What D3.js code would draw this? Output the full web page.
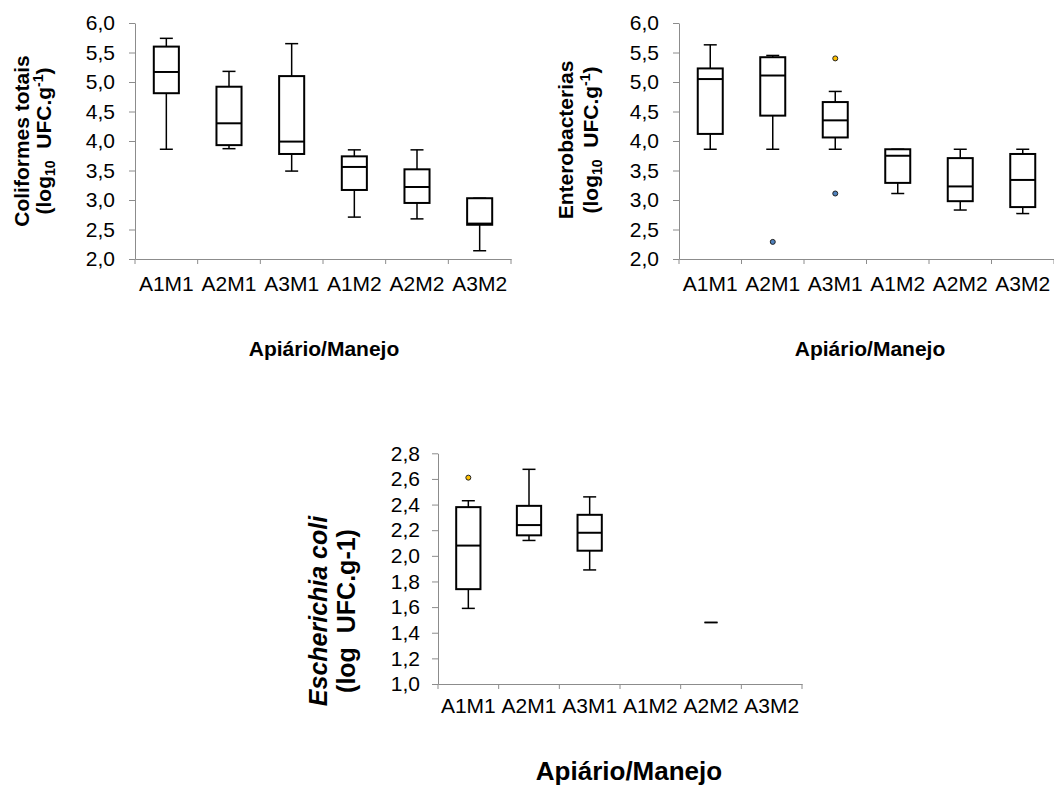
<!DOCTYPE html>
<html>
<head>
<meta charset="utf-8">
<script src="https://cdn.jsdelivr.net/npm/d3@7"></script>
<style>
  body { margin: 0; background: #fff; }
  svg { display: block; font-family: "Liberation Sans", Arial, sans-serif; }
</style>
</head>
<body>
<svg id="chart" width="1054" height="787"></svg>
<script>
// categories (apiário / manejo)
const categories = ["A1M1", "A2M1", "A3M1", "A1M2", "A2M2", "A3M2"];

// coliformes totais (log10 UFC.g-1)
const colMin = [3.86, 3.87, 3.49, 2.71, 2.68, 2.14];
const colQ1  = [4.81, 3.93, 3.78, 3.17, 2.95, 2.58];
const colMed = [5.17, 4.30, 3.99, 3.56, 3.22, 2.60];
const colQ3  = [5.60, 4.92, 5.10, 3.74, 3.52, 3.03];
const colMax = [5.74, 5.18, 5.65, 3.85, 3.85, 3.03];
const colOutliers = [];

// enterobacterias (log10 UFC.g-1)
const entMin = [3.86, 3.86, 3.86, 3.11, 2.83, 2.77];
const entQ1  = [4.12, 4.43, 4.06, 3.29, 2.98, 2.88];
const entMed = [5.05, 5.11, 4.35, 3.75, 3.23, 3.34];
const entQ3  = [5.23, 5.42, 4.66, 3.86, 3.71, 3.78];
const entMax = [5.63, 5.45, 4.84, 3.86, 3.86, 3.86];
const entOutliers = [["A2M1", 2.29], ["A3M1", 5.40], ["A3M1", 3.11]];

// escherichia coli (log UFC.g-1), null = no data
const ecoMin = [1.59, 2.12, 1.89, null, 1.48, null];
const ecoQ1  = [1.74, 2.16, 2.04, null, 1.48, null];
const ecoMed = [2.08, 2.24, 2.18, null, 1.48, null];
const ecoQ3  = [2.38, 2.39, 2.32, null, 1.48, null];
const ecoMax = [2.43, 2.675, 2.46, null, 1.48, null];
const ecoOutliers = [["A1M1", 2.61]];

// tick labels
const yTicksTop = [2.0, 2.5, 3.0, 3.5, 4.0, 4.5, 5.0, 5.5, 6.0];
const yTicksBottom = [1.0, 1.2, 1.4, 1.6, 1.8, 2.0, 2.2, 2.4, 2.6, 2.8];

const ptBR = d3.formatLocale({ decimal: ",", thousands: ".", grouping: [3], currency: ["", ""] });
const fmt = ptBR.format(".1f");

const axisColor = "#8c8c8c";
const svg = d3.select("#chart");

function drawPanel(p) {
    const g = svg.append("g");

    const x = d3.scaleBand()
        .domain(categories)
        .range([p.left, p.right])
        .paddingInner(0)
        .paddingOuter(0);

    const y = d3.scaleLinear()
        .domain(p.yDomain)
        .range([p.bottom, p.top]);

    // y axis
    const yAxis = g.append("g")
        .attr("transform", `translate(${p.left},0)`)
        .call(d3.axisLeft(y).tickValues(p.yTicks).tickFormat(fmt).tickSize(6).tickPadding(p.yTickPad).tickSizeOuter(0));
    yAxis.select(".domain").attr("stroke", axisColor);
    yAxis.selectAll(".tick line").attr("stroke", axisColor);
    yAxis.selectAll("text")
        .attr("fill", "#000")
        .style("font-size", p.tickFont + "px")
        .style("font-family", "'Liberation Sans', Arial, sans-serif");

    // x axis: labels in the middle, ticks on band edges
    const xAxis = g.append("g")
        .attr("transform", `translate(0,${p.bottom})`)
        .call(d3.axisBottom(x).tickSize(0).tickPadding(p.xLabelPad).tickSizeOuter(0));
    xAxis.select(".domain").attr("stroke", axisColor);
    xAxis.selectAll("text")
        .attr("fill", "#000")
        .style("font-size", p.tickFont + "px")
        .style("font-family", "'Liberation Sans', Arial, sans-serif");

    const edges = categories.map(c => x(c)).concat([p.right]);
    g.selectAll(".edge-tick")
        .data(edges)
        .enter()
        .append("line")
        .attr("x1", d => d)
        .attr("x2", d => d)
        .attr("y1", p.bottom)
        .attr("y2", p.bottom + 5)
        .attr("stroke", axisColor);

    // boxes
    const bw = x.bandwidth();
    const boxW = bw * 0.4;
    const capW = 13;
    const rows = categories.map((c, i) => ({
        cat: c, min: p.min[i], q1: p.q1[i], med: p.med[i], q3: p.q3[i], max: p.max[i]
    })).filter(d => d.min !== null);

    const boxes = g.selectAll(".box")
        .data(rows)
        .enter()
        .append("g")
        .attr("class", "box")
        .attr("transform", d => `translate(${x(d.cat) + bw / 2},0)`);

    // whiskers
    boxes.filter(d => d.max > d.q3).append("line")
        .attr("y1", d => y(d.max)).attr("y2", d => y(d.q3))
        .attr("stroke", "#000").attr("stroke-width", 1.5);
    boxes.filter(d => d.min < d.q1).append("line")
        .attr("y1", d => y(d.q1)).attr("y2", d => y(d.min))
        .attr("stroke", "#000").attr("stroke-width", 1.5);

    // caps
    boxes.append("line")
        .attr("x1", -capW / 2).attr("x2", capW / 2)
        .attr("y1", d => y(d.max)).attr("y2", d => y(d.max))
        .attr("stroke", "#000").attr("stroke-width", 1.5);
    boxes.append("line")
        .attr("x1", -capW / 2).attr("x2", capW / 2)
        .attr("y1", d => y(d.min)).attr("y2", d => y(d.min))
        .attr("stroke", "#000").attr("stroke-width", 1.5);

    // box + median (only when the box has height)
    const real = boxes.filter(d => d.q3 > d.q1);
    real.append("rect")
        .attr("x", -boxW / 2)
        .attr("width", boxW)
        .attr("y", d => y(d.q3))
        .attr("height", d => y(d.q1) - y(d.q3))
        .attr("fill", "#fff")
        .attr("stroke", "#000")
        .attr("stroke-width", 2);
    real.append("line")
        .attr("x1", -boxW / 2).attr("x2", boxW / 2)
        .attr("y1", d => y(d.med)).attr("y2", d => y(d.med))
        .attr("stroke", "#000").attr("stroke-width", 2);

    // outliers: yellow above, blue below
    g.selectAll(".outlier")
        .data(p.outliers)
        .enter()
        .append("circle")
        .attr("cx", d => x(d[0]) + bw / 2)
        .attr("cy", d => y(d[1]))
        .attr("r", 2.5)
        .attr("fill", d => {
            const i = categories.indexOf(d[0]);
            return d[1] > p.max[i] ? "#FFC000" : "#4F81BD";
        })
        .attr("stroke", "#222")
        .attr("stroke-width", 1);

    // y title (two lines, rotated)
    const t1 = g.append("text")
        .attr("transform", `translate(${p.yTitleX1},${p.yTitleCY}) rotate(-90)`)
        .attr("text-anchor", "middle")
        .style("font-weight", "bold")
        .style("font-size", p.yTitleFont + "px");
    p.yTitle1(t1);

    const t2 = g.append("text")
        .attr("transform", `translate(${p.yTitleX2},${p.yTitleCY}) rotate(-90)`)
        .attr("text-anchor", "middle")
        .style("font-weight", "bold")
        .style("font-size", p.yTitleFont + "px");
    p.yTitle2(t2);

    // x title
    g.append("text")
        .attr("x", p.xTitleX)
        .attr("y", p.xTitleY)
        .attr("text-anchor", "middle")
        .style("font-weight", "bold")
        .style("font-size", p.xTitleFont + "px")
        .text("Apiário/Manejo");
}

// "(log10  UFC.g-1)" with sub/superscripts (double space kept with nbsp)
function logUnits(t, withSub) {
    t.append("tspan").text("(log");
    if (withSub) {
        t.append("tspan").attr("dy", 4).style("font-size", "14px").text("10");
        t.append("tspan").attr("dy", -4).text("\u00a0\u00a0UFC.g");
        t.append("tspan").attr("dy", -8).style("font-size", "14px").text("-1");
        t.append("tspan").attr("dy", 8).text(")");
    } else {
        t.append("tspan").text("\u00a0\u00a0UFC.g-1)");
    }
}

drawPanel({
    left: 135, right: 511, top: 23, bottom: 259,
    yDomain: [2, 6], yTicks: yTicksTop,
    min: colMin, q1: colQ1, med: colMed, q3: colQ3, max: colMax, outliers: colOutliers,
    tickFont: 21, yTickPad: 14, xLabelPad: 17,
    yTitleFont: 21, yTitleX1: 29, yTitleX2: 51, yTitleCY: 141,
    yTitle1: t => t.text("Coliformes totais"),
    yTitle2: t => logUnits(t, true),
    xTitleX: 324, xTitleY: 356, xTitleFont: 21
});

drawPanel({
    left: 679, right: 1054, top: 23, bottom: 259,
    yDomain: [2, 6], yTicks: yTicksTop,
    min: entMin, q1: entQ1, med: entMed, q3: entQ3, max: entMax, outliers: entOutliers,
    tickFont: 21, yTickPad: 14, xLabelPad: 17,
    yTitleFont: 21, yTitleX1: 573, yTitleX2: 598, yTitleCY: 140,
    yTitle1: t => t.text("Enterobacterias"),
    yTitle2: t => logUnits(t, true),
    xTitleX: 870, xTitleY: 356, xTitleFont: 21
});

drawPanel({
    left: 438, right: 802, top: 453.3, bottom: 684,
    yDomain: [1, 2.8], yTicks: yTicksBottom,
    min: ecoMin, q1: ecoQ1, med: ecoMed, q3: ecoQ3, max: ecoMax, outliers: ecoOutliers,
    tickFont: 21, yTickPad: 12, xLabelPad: 14,
    yTitleFont: 25, yTitleX1: 327, yTitleX2: 355, yTitleCY: 611,
    yTitle1: t => t.append("tspan").style("font-style", "italic").text("Escherichia coli"),
    yTitle2: t => logUnits(t, false),
    xTitleX: 629, xTitleY: 780, xTitleFont: 26
});
</script>
</body>
</html>
